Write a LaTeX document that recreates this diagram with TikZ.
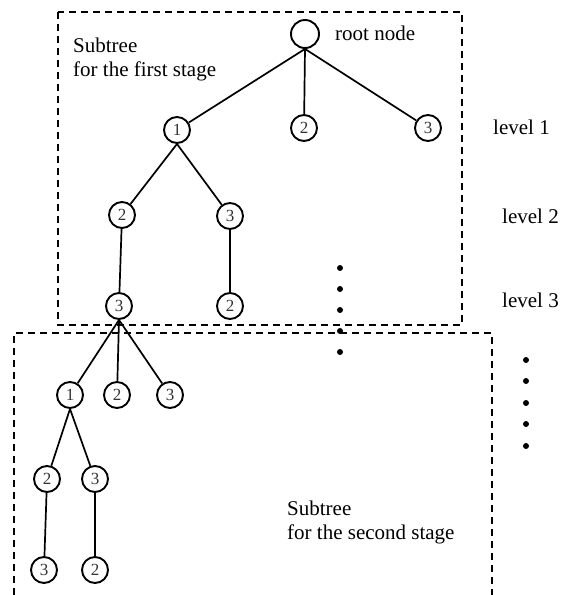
\documentclass[tikz,border=0pt]{standalone}
\usepackage{fontspec}
\setmainfont{Liberation Serif}
\begin{document}
\begin{tikzpicture}[x=1pt,y=-1pt,
  tnode/.style={circle,draw,line width=1.9pt,inner sep=0pt,minimum size=26pt,
    font=\fontsize{17}{17}\selectfont,text=black!80},
  rootnode/.style={tnode,minimum size=28pt},
  edge/.style={line width=1.7pt},
  stagebox/.style={line width=1.9pt,dash pattern=on 7pt off 5pt},
  lbl/.style={font=\fontsize{21}{25}\selectfont,inner sep=0pt},
  dotmark/.style={circle,fill,inner sep=0pt,minimum size=6pt}]
\useasboundingbox (0,0) rectangle (568,595);

% stage boxes
\draw[stagebox] (58,12) rectangle (462,325);
\draw[stagebox] (14,595) -- (14,333) -- (492,333) -- (492,595);

% first-stage tree
\node[rootnode] (r) at (305,34) {};
\node[tnode] (a1) at (177,130) {1};
\node[tnode] (a2) at (304,128) {2};
\node[tnode] (a3) at (428,128) {3};
\node[tnode] (b2) at (122,215) {2};
\node[tnode] (b3) at (230,216) {3};
\node[tnode] (c3) at (119,306) {3};
\node[tnode] (c2) at (230,306) {2};

\draw[edge] (r.south) -- (a1);
\draw[edge] (r.south) -- (a2);
\draw[edge] (r.south) -- (a3);
\draw[edge] (a1.south) -- (b2);
\draw[edge] (a1.south) -- (b3);
\draw[edge] (b2) -- (c3);
\draw[edge] (b3) -- (c2);

% second-stage tree
\node[tnode] (d1) at (70,395) {1};
\node[tnode] (d2) at (117,395) {2};
\node[tnode] (d3) at (170,395) {3};
\node[tnode] (e2) at (47,479) {2};
\node[tnode] (e3) at (95,479) {3};
\node[tnode] (f3) at (44,570) {3};
\node[tnode] (f2) at (95,570) {2};

\draw[edge] (c3.south) -- (d1);
\draw[edge] (c3.south) -- (d2);
\draw[edge] (c3.south) -- (d3);
\draw[edge] (d1.south) -- (e2);
\draw[edge] (d1.south) -- (e3);
\draw[edge] (e2) -- (f3);
\draw[edge] (e3) -- (f2);

% labels
\node[lbl,anchor=base west] (rl) at (335,40) {root node};
\node[lbl,anchor=base west] (s1a) at (73,52) {Subtree};
\node[lbl,anchor=base west] (s1b) at (73,76) {for the first stage};
\node[lbl,anchor=base west] (l1) at (493,134) {level 1};
\node[lbl,anchor=base west] (l2) at (502,223) {level 2};
\node[lbl,anchor=base west] (l3) at (502,307) {level 3};
\node[lbl,anchor=base west] (s2a) at (287,515) {Subtree};
\node[lbl,anchor=base west] (s2b) at (287,539) {for the second stage};

% continuation dots
\foreach \y [count=\i] in {268,289,310,331,352}
  \node[dotmark] (p\i) at (340,\y) {};
\foreach \y [count=\i] in {360,381,403,424,446}
  \node[dotmark] (q\i) at (526,\y) {};
\end{tikzpicture}
\end{document}
